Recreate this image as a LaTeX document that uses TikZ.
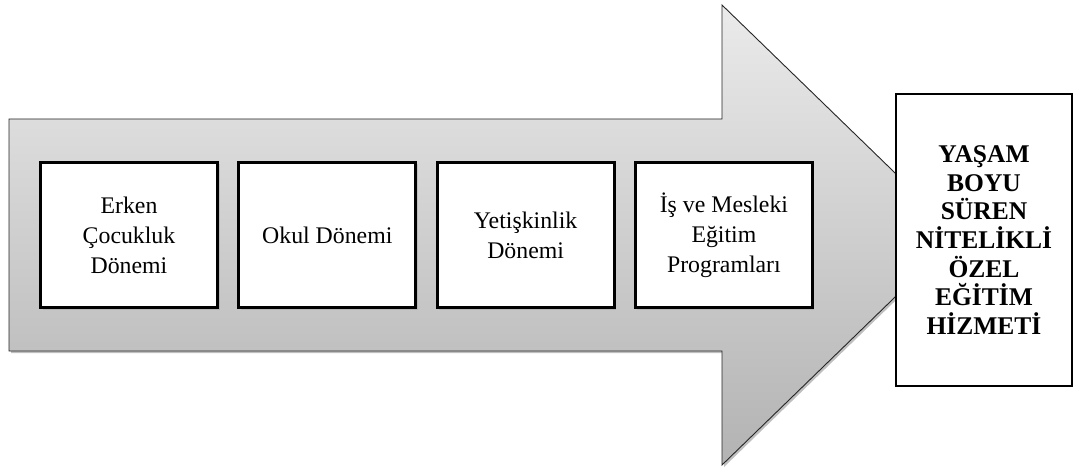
\documentclass[tikz,border=0pt]{standalone}
\usepackage{fontspec}
\setmainfont{Liberation Serif}
\usepackage{xcolor}
\usetikzlibrary{positioning,shadows}

\tikzset{
  evre/.style={draw=black, line width=3pt, fill=white, minimum width=177pt, minimum height=145pt,
    align=center, font=\fontsize{23.8}{30}\selectfont, inner sep=2pt,
    drop shadow={shadow xshift=2pt, shadow yshift=-2pt, opacity=0.25}},
  sonuc/.style={draw=black, line width=2.2pt, fill=white, minimum width=176pt, minimum height=292pt,
    align=center, font=\fontsize{25.5}{28.7}\selectfont\bfseries, inner sep=2pt}
}

\begin{document}
\begin{tikzpicture}[x=1pt,y=-1pt]
        \useasboundingbox (0,0) rectangle (1074,468);
        % big arrow
        \fill[black!25] (11,121) -- (724,121) -- (724,7) -- (961,237) -- (724,467) -- (724,353) -- (11,353) -- cycle;
        \draw[black!85, line width=0.9pt, top color=gray!16, bottom color=gray!60]
          (9,119) -- (722,119) -- (722,5) -- (959,235) -- (722,465) -- (722,351) -- (9,351) -- cycle;
        % stages
        \node[evre] (erken) at (129,235) {Erken\\Çocukluk\\Dönemi};
        \node[evre, right=18.3pt of erken] (okul) {Okul Dönemi};
        \node[evre, right=18.3pt of okul] (yetiskin) {Yetişkinlik\\Dönemi};
        \node[evre, right=18.3pt of yetiskin] (meslek) {İş ve Mesleki\\Eğitim\\Programları};
        \node[sonuc] (hizmet) at (984,240) {YAŞAM\\BOYU\\SÜREN\\NİTELİKLİ\\ÖZEL\\EĞİTİM\\HİZMETİ};
    \end{tikzpicture}
\end{document}
